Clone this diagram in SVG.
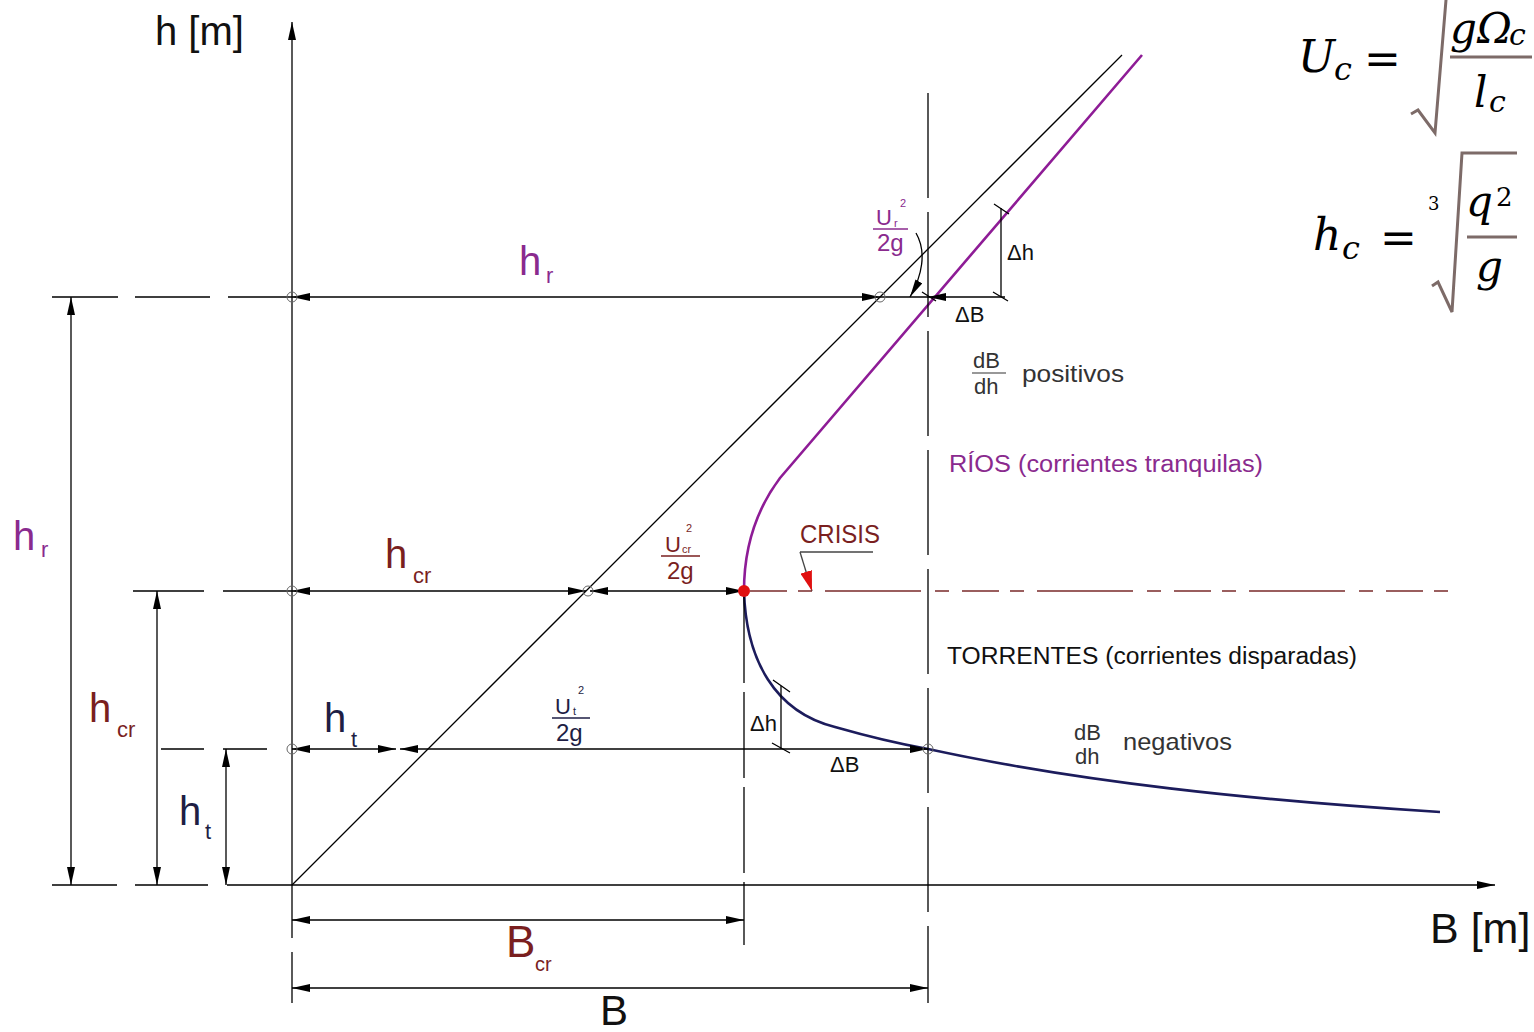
<svg xmlns="http://www.w3.org/2000/svg" width="1534" height="1032" viewBox="0 0 1534 1032">
<defs>
<marker id="arr" viewBox="0 0 18 8" refX="18" refY="4" markerWidth="18" markerHeight="8" markerUnits="userSpaceOnUse" orient="auto-start-reverse"><path d="M0,0 L18,4 L0,8 z" fill="#000"/></marker>
<marker id="arrR" viewBox="0 0 20 12" refX="20" refY="6" markerWidth="20" markerHeight="12" markerUnits="userSpaceOnUse" orient="auto"><path d="M0,0 L20,6 L0,12 z" fill="#e01010"/></marker>
<style>
.ln{stroke:#000;stroke-width:1.3;fill:none}
.dim{stroke:#000;stroke-width:1.3;fill:none;marker-start:url(#arr);marker-end:url(#arr)}
.cir{stroke:#666;stroke-width:1;fill:none}
.t{font-family:"Liberation Sans","DejaVu Sans",sans-serif}
.big{font-size:40px}
.sub{font-size:22px}
.mid{font-size:24px}
.fr{font-size:22px}
.tiny{font-size:11px}
.pur{fill:#8a2a8e}
.red{fill:#7a1f1f}
.nav{fill:#1e1e44}
.blk{fill:#111}
.m{font-family:"DejaVu Serif","Liberation Serif",serif;font-style:italic;fill:#000}
.eq{font-family:"DejaVu Serif","Liberation Serif",serif;fill:#000}
.rad{stroke:#7d6b68;stroke-width:3;fill:none}
</style>
</defs>
<rect width="1534" height="1032" fill="#fff"/>

<g id="axes">
<line class="ln" x1="292" y1="938" x2="292" y2="22" style="marker-end:url(#arr)"/>
<line class="ln" x1="292" y1="952" x2="292" y2="1003"/>
<line class="ln" x1="292" y1="885" x2="1495" y2="885" style="marker-end:url(#arr)"/>
<line class="ln" x1="292" y1="885" x2="1122" y2="55"/>
</g>

<g id="curves">
<path d="M1142,55 L780,478 C756,510 744,548 744,591" stroke="#8e1c96" stroke-width="2.6" fill="none"/>
<path d="M744,591 C746,660 775,712 835,727 C870,737 900,744 928,749 C1080,782 1250,800 1440,812" stroke="#1c1c5c" stroke-width="2.6" fill="none"/>
</g>

<g id="connectors">
<path class="ln" d="M52,297 H118 M135,297 H210 M228,297 H292"/>
<path class="ln" d="M133,591 H204 M223,591 H292"/>
<path class="ln" d="M161,749 H204 M223,749 H267"/>
<path class="ln" d="M52,885 H117 M135,885 H208 M227,885 H292"/>
<line class="ln" x1="744" y1="597" x2="744" y2="945" stroke-dasharray="86 9"/>
<line class="ln" x1="928" y1="93" x2="928" y2="1003" stroke-dasharray="105 14"/>
<line x1="750" y1="591" x2="1452" y2="591" stroke="#7a2a2a" stroke-width="1.3" stroke-dasharray="37 11 14 13 96 14 14 13"/>
<line class="dim" x1="71" y1="297" x2="71" y2="885"/>
<line class="dim" x1="157" y1="591" x2="157" y2="885"/>
<line class="dim" x1="226" y1="749" x2="226" y2="885"/>
<line class="dim" x1="292" y1="297" x2="880" y2="297"/>
<line class="ln" x1="880" y1="297" x2="928" y2="297"/>
<line class="ln" x1="928" y1="297" x2="1005" y2="297" style="marker-start:url(#arr)"/>
<line class="ln" x1="1001" y1="208" x2="1001" y2="297"/>
<path class="ln" d="M994,204 L1009,214 M993,292 L1008,301 M922,292 L936,301"/>
<path class="ln" d="M916,233 C927,252 922,276 910,297" style="marker-end:url(#arr)"/>
<line class="dim" x1="292" y1="591" x2="586" y2="591"/>
<line class="dim" x1="590" y1="591" x2="744" y2="591"/>
<line class="dim" x1="292" y1="749" x2="396" y2="749"/>
<line class="dim" x1="400" y1="749" x2="928" y2="749"/>
<line class="ln" x1="781" y1="686" x2="781" y2="749"/>
<path class="ln" d="M773,680 L790,692 M772,743 L790,753"/>
<line class="dim" x1="292" y1="920" x2="744" y2="920"/>
<line class="dim" x1="292" y1="988" x2="928" y2="988"/>
<line x1="800" y1="552" x2="873" y2="552" stroke="#444" stroke-width="1.3"/>
<line x1="800" y1="552" x2="812" y2="591" stroke="#444" stroke-width="1.3" style="marker-end:url(#arrR)"/>
<circle class="cir" cx="292" cy="297" r="5"/>
<circle class="cir" cx="880" cy="297" r="5"/>
<circle class="cir" cx="292" cy="591" r="5"/>
<circle class="cir" cx="588" cy="591" r="5"/>
<circle class="cir" cx="292" cy="749" r="5"/>
<circle class="cir" cx="928" cy="749" r="5"/>
</g>

<g id="crisis-point"><circle cx="744" cy="591" r="6" fill="#e01010"/></g>

<g id="axis-labels">
<text class="t big blk" x="155" y="45">h [m]</text>
<text class="t blk" x="1430" y="943" font-size="43">B [m]</text>
</g>

<g id="label-hr">
<text class="t big pur" x="519" y="275">h</text><text class="t sub pur" x="546" y="283">r</text>
<text class="t big pur" x="13" y="550">h</text><text class="t sub pur" x="41" y="557">r</text>
</g>
<g id="label-hcr">
<text class="t big red" x="385" y="568">h</text><text class="t sub red" x="413" y="583">cr</text>
<text class="t big red" x="89" y="722">h</text><text class="t sub red" x="117" y="737">cr</text>
</g>
<g id="label-ht">
<text class="t big nav" x="324" y="732">h</text><text class="t sub nav" x="351" y="747">t</text>
<text class="t big nav" x="179" y="825">h</text><text class="t sub nav" x="205" y="839">t</text>
</g>
<g id="label-B">
<text class="t red" x="506" y="957" font-size="44">B</text><text class="t red" x="535" y="971" font-size="20">cr</text>
<text class="t blk" x="600" y="1025" font-size="42">B</text>
</g>

<g id="label-Ur">
<text class="t fr pur" x="876" y="225">U</text><text class="t tiny pur" x="894" y="227">r</text><text class="t tiny pur" x="900" y="207">2</text>
<line x1="873" y1="229" x2="908" y2="229" stroke="#8a2a8e" stroke-width="1.3"/>
<text class="t mid pur" x="877" y="251">2g</text>
</g>
<g id="label-Ucr">
<text class="t fr red" x="665" y="552">U</text><text class="t tiny red" x="682" y="553">cr</text><text class="t tiny red" x="686" y="532">2</text>
<line x1="661" y1="556" x2="700" y2="556" stroke="#7a1f1f" stroke-width="1.3"/>
<text class="t mid red" x="667" y="579">2g</text>
</g>
<g id="label-Ut">
<text class="t fr nav" x="555" y="714">U</text><text class="t tiny nav" x="573" y="715">t</text><text class="t tiny nav" x="578" y="694">2</text>
<line x1="552" y1="718" x2="590" y2="718" stroke="#1e1e44" stroke-width="1.3"/>
<text class="t mid nav" x="556" y="741">2g</text>
</g>
<g id="label-deltas">
<text class="t fr blk" x="1007" y="260">Δh</text>
<text class="t fr blk" x="955" y="322">ΔB</text>
<text class="t fr blk" x="750" y="731">Δh</text>
<text class="t fr blk" x="830" y="772">ΔB</text>
</g>
<g id="label-crisis">
<text class="t red" x="800" y="543" font-size="26" textLength="80" lengthAdjust="spacingAndGlyphs">CRISIS</text>
</g>
<g id="label-positivos">
<text class="t fr" fill="#333" x="973" y="368">dB</text>
<line x1="972" y1="373" x2="1006" y2="373" stroke="#333" stroke-width="1.2"/>
<text class="t fr" fill="#333" x="974" y="394">dh</text>
<text class="t" fill="#333" x="1022" y="382" font-size="24" textLength="102" lengthAdjust="spacingAndGlyphs">positivos</text>
</g>
<g id="label-rios">
<text class="t pur" x="949" y="472" font-size="23" textLength="314" lengthAdjust="spacingAndGlyphs">RÍOS (corrientes tranquilas)</text>
</g>
<g id="label-torrentes">
<text class="t blk" x="947" y="664" font-size="23" textLength="410" lengthAdjust="spacingAndGlyphs">TORRENTES (corrientes disparadas)</text>
</g>
<g id="label-negativos">
<text class="t fr" fill="#333" x="1074" y="740">dB</text>
<text class="t fr" fill="#333" x="1075" y="764">dh</text>
<text class="t" fill="#333" x="1123" y="750" font-size="24" textLength="109" lengthAdjust="spacingAndGlyphs">negativos</text>
</g>

<g id="formula-Uc">
<text class="m" x="1298" y="72" font-size="44">U</text>
<text class="m" x="1334" y="80" font-size="32">c</text>
<text class="eq" x="1364" y="74" font-size="44">=</text>
<polyline class="rad" points="1411,114 1418,110 1435,133 1446,0"/>
<text class="m" x="1450" y="43" font-size="42">gΩ</text>
<text class="m" x="1509" y="45" font-size="30">c</text>
<line class="rad" x1="1450" y1="57" x2="1532" y2="57"/>
<text class="m" x="1474" y="107" font-size="42">l</text>
<text class="m" x="1489" y="112" font-size="30">c</text>
</g>
<g id="formula-hc">
<text class="m" x="1313" y="250" font-size="44">h</text>
<text class="m" x="1342" y="259" font-size="32">c</text>
<text class="eq" x="1380" y="253" font-size="44">=</text>
<text class="eq" x="1428" y="210" font-size="18">3</text>
<polyline class="rad" points="1432,286 1438,282 1452,312 1462,153 1517,153"/>
<text class="m" x="1466" y="216" font-size="42">q</text>
<text class="eq" x="1496" y="206" font-size="26">2</text>
<line class="rad" x1="1467" y1="237" x2="1517" y2="237"/>
<text class="m" x="1476" y="281" font-size="42">g</text>
</g>
</svg>
